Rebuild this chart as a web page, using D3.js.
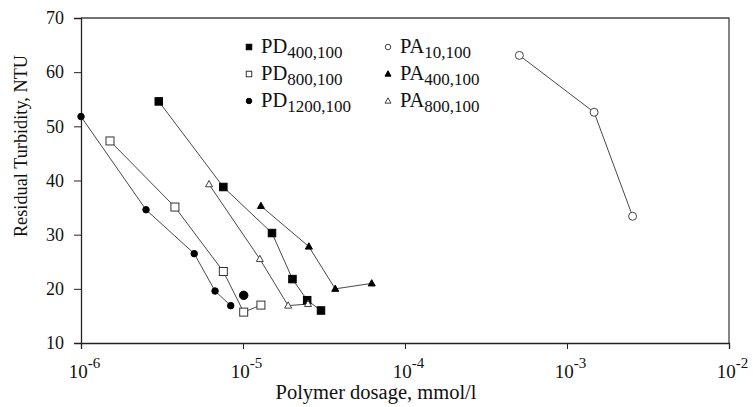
<!DOCTYPE html>
<html><head><meta charset="utf-8">
<script src="https://cdn.jsdelivr.net/npm/d3@7"></script>
<style>
body{margin:0;background:#fff;}
text{font-family:"Liberation Serif","Times New Roman",serif;fill:#111;}
</style></head>
<body><svg id="c" width="753" height="407"></svg>
<script>
// Data (x: polymer dosage mmol/l, y: residual turbidity NTU)
const pd400x = [3.02e-6, 7.56e-6, 1.51e-5, 2.02e-5, 2.49e-5, 3.03e-5];
const pd400y = [54.6, 38.8, 30.3, 21.8, 17.9, 16.0];
const pd800x = [1.51e-6, 3.80e-6, 7.56e-6, 1.01e-5, 1.29e-5];
const pd800y = [47.3, 35.1, 23.2, 15.7, 17.0];
const pd1200x = [1.0e-6, 2.52e-6, 5.0e-6, 6.72e-6, 8.4e-6];
const pd1200y = [51.8, 34.6, 26.5, 19.6, 16.9];
const pd1200xExtra = [1.01e-5];
const pd1200yExtra = [18.8];
const pa10x = [5.08e-4, 1.47e-3, 2.54e-3];
const pa10y = [63.1, 52.6, 33.4];
const pa400x = [1.29e-5, 2.55e-5, 3.71e-5, 6.23e-5];
const pa400y = [35.3, 27.8, 20.0, 21.0];
const pa800x = [6.17e-6, 1.27e-5, 1.90e-5, 2.52e-5];
const pa800y = [39.3, 25.5, 16.9, 17.2];
const xTickExps = [-6, -5, -4, -3, -2];
const yTicks = [10, 20, 30, 40, 50, 60, 70];

const series = [
  {name:"PD", sub:"400,100", xs:pd400x, ys:pd400y, shape:"square", fill:true},
  {name:"PD", sub:"800,100", xs:pd800x, ys:pd800y, shape:"square", fill:false},
  {name:"PD", sub:"1200,100", xs:pd1200x, ys:pd1200y, shape:"circle", fill:true},
  {name:"PA", sub:"10,100", xs:pa10x, ys:pa10y, shape:"circle", fill:false},
  {name:"PA", sub:"400,100", xs:pa400x, ys:pa400y, shape:"triangle", fill:true},
  {name:"PA", sub:"800,100", xs:pa800x, ys:pa800y, shape:"triangle", fill:false}
];

const svg = d3.select("#c");
const L = 81, T = 18, W = 648, H = 325;
const x = d3.scaleLog().domain([1e-6, 1e-2]).range([L, L + W]);
const y = d3.scaleLinear().domain([10, 70]).range([T + H, T]);

// frame (top/right)
svg.append("path").attr("d", `M${L},${T}H${L+W}V${T+H}`)
  .attr("fill","none").attr("stroke","#444").attr("stroke-width",1.3);

// y axis
const ya = svg.append("g").attr("transform",`translate(${L},0)`)
  .call(d3.axisLeft(y).tickValues(yTicks).tickSize(7).tickPadding(10).tickFormat(d3.format("d")));
ya.select(".domain").attr("stroke","#222").attr("stroke-width",1.3);
ya.selectAll(".tick line").attr("stroke","#222");
ya.selectAll(".tick text").attr("font-size",18).attr("font-family","Liberation Serif").attr("fill","#111");

// x axis
const xa = svg.append("g").attr("transform",`translate(0,${T+H})`)
  .call(d3.axisBottom(x).tickValues(xTickExps.map(e=>Math.pow(10,e))).tickSize(6).tickFormat(""));
xa.select(".domain").attr("stroke","#222").attr("stroke-width",1.3);
xa.selectAll(".tick line").attr("stroke","#222");
xa.selectAll(".tick").each(function(d){
  const e = Math.round(Math.log10(d));
  const t = d3.select(this).append("text").attr("y",35).attr("x",3).attr("text-anchor","middle").attr("font-size",19);
  t.append("tspan").text("10");
  t.append("tspan").attr("font-size",15).attr("dy",-10).text(String(e));
});

// axis titles
svg.append("text").attr("x",376).attr("y",399).attr("text-anchor","middle").attr("font-size",20.5)
  .text("Polymer dosage, mmol/l");
svg.append("text").attr("transform","translate(27,146) rotate(-90)").attr("text-anchor","middle").attr("font-size",18.3)
  .text("Residual Turbidity, NTU");

function marker(g, shape, fill, cx, cy, s) {
  const col = "#000";
  if (shape === "square") {
    g.append("rect").attr("x",cx-s/2).attr("y",cy-s/2).attr("width",s).attr("height",s)
      .attr("fill",fill?col:"#fff").attr("stroke",fill?col:"#333").attr("stroke-width",1);
  } else if (shape === "circle") {
    g.append("circle").attr("cx",cx).attr("cy",cy).attr("r",s/2)
      .attr("fill",fill?col:"#fff").attr("stroke",fill?col:"#444").attr("stroke-width",1);
  } else {
    const h = s*0.9;
    g.append("path").attr("d",`M${cx},${cy-h*0.6}L${cx+s/2},${cy+h*0.4}L${cx-s/2},${cy+h*0.4}Z`)
      .attr("fill",fill?col:"#fff").attr("stroke",fill?col:"#444").attr("stroke-width",1);
  }
}

const line = d3.line().x(d=>x(d[0])).y(d=>y(d[1]));
const plot = svg.append("g");
series.forEach(s=>{
  const pts = s.xs.map((v,i)=>[v, s.ys[i]]);
  plot.append("path").datum(pts).attr("d",line).attr("fill","none").attr("stroke","#333").attr("stroke-width",0.9);
});
series.forEach(s=>{
  const g = plot.append("g");
  const sz = s.shape==="square" ? (s.fill?7.5:8) : s.shape==="circle" ? (s.fill?6.5:8) : 7;
  s.xs.forEach((v,i)=>marker(g, s.shape, s.fill, x(v), y(s.ys[i]), sz));
});
pd1200xExtra.forEach((v,i)=>marker(plot, "circle", true, x(v), y(pd1200yExtra[i]), 8.5));

// legend
const leg = svg.append("g");
const cols = [249, 388];
const rows = [47, 74, 101];
series.forEach((s,i)=>{
  const cx = cols[Math.floor(i/3)], cy = rows[i%3];
  marker(leg, s.shape, s.fill, cx, cy, s.shape==="triangle"?6:5.5);
  const t = leg.append("text").attr("x", cx+12).attr("y", cy+6).attr("font-size",20.5);
  t.append("tspan").text(s.name);
  t.append("tspan").attr("font-size",17).attr("dy",5).text(s.sub);
});
</script></body></html>
